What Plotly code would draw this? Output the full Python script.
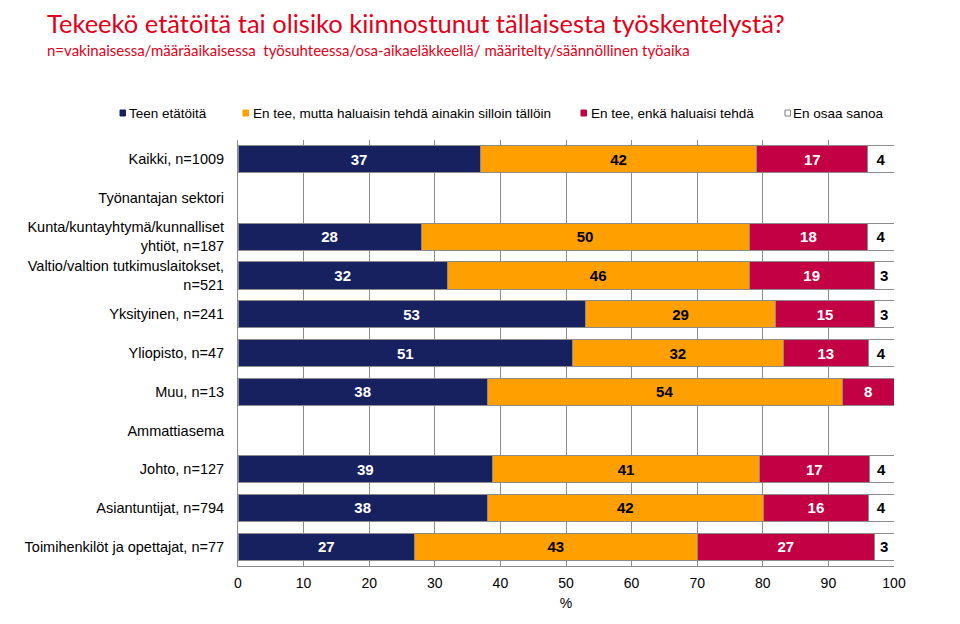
import plotly.graph_objects as go

categories = [
    "Kaikki, n=1009",
    "Työnantajan sektori",
    "Kunta/kuntayhtymä/kunnalliset<br>yhtiöt, n=187",
    "Valtio/valtion tutkimuslaitokset,<br>n=521",
    "Yksityinen, n=241",
    "Yliopisto, n=47",
    "Muu, n=13",
    "Ammattiasema",
    "Johto, n=127",
    "Asiantuntijat, n=794",
    "Toimihenkilöt ja opettajat, n=77",
]

series_names = [
    "Teen etätöitä",
    "En tee, mutta haluaisin tehdä ainakin silloin tällöin",
    "En tee, enkä haluaisi tehdä",
    "En osaa sanoa",
]

teen = [36.9, None, 27.9, 31.9, 52.9, 51.0, 38.0, None, 38.8, 38.0, 26.9]
haluaisin = [42.2, None, 50.0, 46.0, 29.1, 32.1, 54.1, None, 40.7, 42.1, 43.1]
ei_haluaisi = [16.9, None, 18.1, 19.1, 15.0, 13.0, 7.9, None, 16.7, 16.0, 27.0]
ei_osaa = [4.0, None, 4.0, 3.0, 3.0, 3.9, None, None, 3.8, 3.9, 3.0]

x_ticks = [0, 10, 20, 30, 40, 50, 60, 70, 80, 90, 100]

fill_colors = ["#172160", "#FF9F00", "#C40045", "#FFFFFF"]
text_colors = ["white", "black", "white", "black"]
border_color = "#8C8C8C"
red_title = "#E2001A"
FONT = "Arial, Liberation Sans, sans-serif"

# figure size (page has an 8px body margin)
W, H = 952, 616
L, R, T, B = 230, 66, 132, 58
pw, ph = W - L - R, H - T - B


def px(x):
    return (x - L) / pw


def py(y):
    return (H - B - y) / ph


fig = go.Figure()
for name, vals, fc, tc in zip(series_names, [teen, haluaisin, ei_haluaisi, ei_osaa], fill_colors, text_colors):
    fig.add_trace(go.Bar(
        y=categories, x=vals, name=name, orientation="h",
        marker=dict(color=fc, line=dict(color=border_color, width=1)),
        texttemplate="%{x:.0f}", textposition="inside", insidetextanchor="middle",
        textfont=dict(family=FONT, size=15, color=tc, weight="bold"),
        constraintext="none", showlegend=False,
    ))

# legend drawn as small squares + text
legend_marker_x = [112, 235, 573, 777]
legend_text_x = [120, 244, 582, 784]
legend_y = 105
shapes = []
annotations = []
for name, fc, mx, tx in zip(series_names, fill_colors, legend_marker_x, legend_text_x):
    shapes.append(dict(type="rect", xref="paper", yref="paper",
                       x0=px(mx), x1=px(mx + 5.5), y0=py(legend_y - 3), y1=py(legend_y + 3),
                       fillcolor=fc, line=dict(color="#7F7F7F" if fc == "#FFFFFF" else fc, width=1)))
    annotations.append(dict(text=name, xref="paper", yref="paper", x=px(tx - 1), y=py(legend_y),
                            xanchor="left", yanchor="middle", showarrow=False,
                            font=dict(family=FONT, size=13.5, color="black")))

annotations += [
    dict(text="Tekeekö etätöitä tai olisiko kiinnostunut tällaisesta työskentelystä?",
         xref="paper", yref="paper", x=px(37), y=py(15), xanchor="left", yanchor="middle",
         showarrow=False, font=dict(family="Lato", size=25.5, color=red_title)),
    dict(text="n=vakinaisessa/määräaikaisessa  työsuhteessa/osa-aikaeläkkeellä/ määritelty/säännöllinen työaika",
         xref="paper", yref="paper", x=px(37), y=py(41.5), xanchor="left", yanchor="middle",
         showarrow=False, font=dict(family="Lato", size=15, color=red_title)),
]

fig.update_layout(
    width=W, height=H, barmode="stack", bargap=0.3,
    margin=dict(l=L, r=R, t=T, b=B, autoexpand=False),
    plot_bgcolor="white", paper_bgcolor="white",
    font=dict(family=FONT, size=14, color="black"),
    showlegend=False,
    xaxis=dict(range=[0, 100], tickvals=x_ticks, showgrid=True, gridcolor=border_color, gridwidth=1,
               showline=True, linecolor=border_color, zeroline=False, ticks="", ticklabelstandoff=4,
               title=dict(text="%", font=dict(size=14), standoff=8), tickfont=dict(size=14)),
    yaxis=dict(autorange="reversed", showgrid=False, showline=True, linecolor=border_color, ticks="",
               ticklabelstandoff=10, tickfont=dict(size=14.5)),
    shapes=shapes,
    annotations=annotations,
)

fig.write_html("out.html")
